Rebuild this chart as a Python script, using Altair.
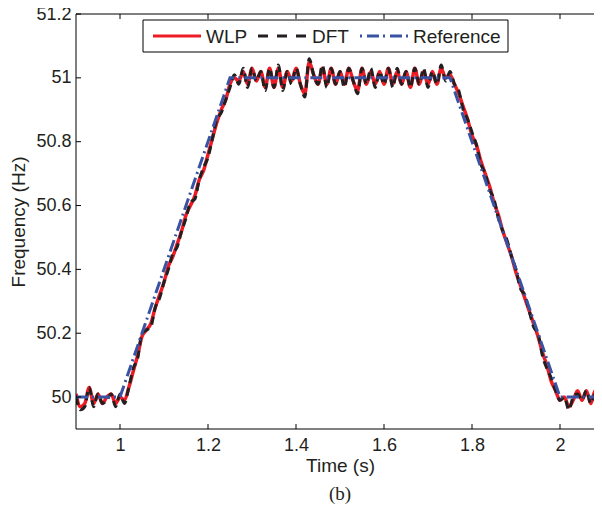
import altair as alt
import pandas as pd

# sample times (s)
time = [round(0.90 + 0.01 * i, 2) for i in range(121)]

wlp = [50.01, 49.97, 49.98, 50.03, 49.98, 50.01, 49.98, 50.00, 50.01, 49.98, 50.00,
       49.99, 50.03, 50.08, 50.13, 50.19, 50.21, 50.23, 50.28, 50.32, 50.36,
       50.41, 50.44, 50.48, 50.52, 50.57, 50.60, 50.63, 50.68, 50.71, 50.76,
       50.81, 50.86, 50.90, 50.93, 50.98, 51.00, 50.99, 51.02, 50.98, 51.03,
       50.99, 51.02, 50.97, 51.03, 50.97, 51.03, 50.97, 51.02, 50.99, 51.03,
       50.98, 50.95, 51.05, 51.01, 50.98, 51.03, 50.98, 51.03, 50.98, 51.02,
       50.98, 51.03, 50.99, 50.96, 51.03, 50.98, 51.02, 50.98, 51.02, 50.98,
       51.03, 50.98, 51.02, 50.98, 51.02, 50.97, 51.03, 50.98, 51.02, 50.98,
       51.02, 50.98, 51.03, 51.00, 51.01, 50.98, 50.95, 50.91, 50.87, 50.82,
       50.79, 50.74, 50.70, 50.66, 50.61, 50.57, 50.52, 50.48, 50.44, 50.39,
       50.35, 50.31, 50.27, 50.23, 50.19, 50.14, 50.10, 50.05, 50.02, 49.99,
       50.00, 49.97, 49.99, 50.02, 49.99, 50.02, 49.98, 50.02, 49.97, 50.03]

dft = [50.00, 49.96, 49.97, 50.03, 49.97, 50.01, 49.98, 49.99, 50.01, 49.97, 50.01,
       49.98, 50.03, 50.09, 50.12, 50.20, 50.21, 50.22, 50.28, 50.31, 50.36,
       50.40, 50.45, 50.47, 50.52, 50.56, 50.61, 50.62, 50.68, 50.72, 50.75,
       50.81, 50.87, 50.89, 50.93, 50.97, 51.01, 50.98, 51.03, 50.97, 51.03,
       50.99, 51.02, 50.96, 51.03, 50.97, 51.04, 50.96, 51.02, 50.98, 51.03,
       50.98, 50.94, 51.06, 51.01, 50.98, 51.04, 50.97, 51.03, 50.98, 51.02,
       50.97, 51.03, 50.99, 50.95, 51.03, 50.98, 51.03, 50.97, 51.02, 50.98,
       51.03, 50.97, 51.03, 50.98, 51.02, 50.97, 51.03, 50.98, 51.03, 50.97,
       51.02, 50.98, 51.04, 50.99, 51.02, 50.98, 50.96, 50.90, 50.87, 50.83,
       50.79, 50.73, 50.70, 50.65, 50.62, 50.56, 50.52, 50.49, 50.44, 50.40,
       50.34, 50.32, 50.27, 50.22, 50.20, 50.13, 50.09, 50.06, 50.02, 49.99,
       50.00, 49.96, 50.00, 50.01, 49.99, 50.02, 49.98, 50.01, 49.97, 50.02]

ref_t = [0.90, 1.00, 1.25, 1.75, 2.00, 2.10]
ref_f = [50.0, 50.0, 51.0, 51.0, 50.0, 50.0]

x_ticks = [1.0, 1.2, 1.4, 1.6, 1.8, 2.0]
y_ticks = [50.0, 50.2, 50.4, 50.6, 50.8, 51.0, 51.2]

legend_labels = ["WLP", "DFT", "Reference"]

RED = "#ed1c24"
BLACK = "#231f20"
BLUE = "#3953a4"
W, H = 518, 415
PX_PER_S = 440.0

df_w = pd.DataFrame({"t": time, "f": wlp})
df_d = pd.DataFrame({"t": time, "f": dft})
df_r = pd.DataFrame({"t": ref_t, "f": ref_f})

# the reference's axes run to 2.1 s, past the right edge of the window
xs = alt.Scale(domain=[0.9, 0.9 + W / PX_PER_S], nice=False, zero=False)
ys = alt.Scale(domain=[49.9, 51.2], nice=False, zero=False)

xax = alt.Axis(values=x_ticks, format=".1~f", title="Time (s)", ticks=False, domain=False,
               grid=False, labelPadding=7, titleX=264, titleY=27, titleBaseline="top",
               titleAlign="center")
yax = alt.Axis(values=y_ticks, format=".1~f", title="Frequency (Hz)", ticks=False, domain=False,
               grid=False, labelPadding=5, titleX=-58, titleY=H / 2, titleAngle=270,
               titleBaseline="middle", titleAlign="center")

line_w = alt.Chart(df_w).mark_line(color=RED, strokeWidth=3.5, interpolate="monotone", clip=True).encode(
    x=alt.X("t:Q", scale=xs, axis=xax),
    y=alt.Y("f:Q", scale=ys, axis=yax),
)
line_d = alt.Chart(df_d).mark_line(color=BLACK, strokeWidth=3, strokeDash=[8, 5],
                                   interpolate="monotone", clip=True).encode(
    x=alt.X("t:Q", scale=xs), y=alt.Y("f:Q", scale=ys))
line_r = alt.Chart(df_r).mark_line(color=BLUE, strokeWidth=3, strokeDash=[12, 4, 2, 4], clip=True).encode(
    x=alt.X("t:Q", scale=xs), y=alt.Y("f:Q", scale=ys))

# frame (left, top, bottom; the right side lies past the window edge)
frame_df = pd.DataFrame({"k": [0]})
frame_left = alt.Chart(frame_df).mark_rule(color="black", strokeWidth=1).encode(
    x=alt.value(0), y=alt.value(0), y2=alt.value(H))
frame_top = alt.Chart(frame_df).mark_rule(color="black", strokeWidth=1).encode(
    x=alt.value(0), x2=alt.value(W + 2), y=alt.value(0))
frame_bottom = alt.Chart(frame_df).mark_rule(color="black", strokeWidth=1).encode(
    x=alt.value(0), x2=alt.value(W + 2), y=alt.value(H))

# inward ticks (MATLAB style box)
df_xt = pd.DataFrame({"t": x_ticks})
df_yt = pd.DataFrame({"f": y_ticks})
tick_bottom = alt.Chart(df_xt).mark_rule(color="black", strokeWidth=1).encode(
    x=alt.X("t:Q", scale=xs), y=alt.value(H - 5), y2=alt.value(H))
tick_top = alt.Chart(df_xt).mark_rule(color="black", strokeWidth=1).encode(
    x=alt.X("t:Q", scale=xs), y=alt.value(0), y2=alt.value(5))
tick_left = alt.Chart(df_yt).mark_rule(color="black", strokeWidth=1).encode(
    y=alt.Y("f:Q", scale=ys), x=alt.value(0), x2=alt.value(5))

# legend
leg_df = pd.DataFrame({"label": legend_labels})
leg_box = alt.Chart(leg_df.head(1)).mark_rect(fill="white", stroke="black", strokeWidth=1).encode(
    x=alt.value(67), x2=alt.value(432), y=alt.value(6), y2=alt.value(38))
ly = 22
leg_red = alt.Chart(leg_df.head(1)).mark_rule(color=RED, strokeWidth=3).encode(
    x=alt.value(77), x2=alt.value(125), y=alt.value(ly))
leg_blk = alt.Chart(leg_df.head(1)).mark_rule(color=BLACK, strokeWidth=3, strokeDash=[10, 9]).encode(
    x=alt.value(182), x2=alt.value(230), y=alt.value(ly))
leg_blu = alt.Chart(leg_df.head(1)).mark_rule(color=BLUE, strokeWidth=3, strokeDash=[2, 5, 12, 4]).encode(
    x=alt.value(284), x2=alt.value(332), y=alt.value(ly))


def leg_text(i, xpos):
    return alt.Chart(leg_df.iloc[[i]]).mark_text(
        align="left", baseline="middle", font="Liberation Sans", fontSize=19, color="#231f20"
    ).encode(x=alt.value(xpos), y=alt.value(ly + 1), text="label:N")


sub = alt.Chart(leg_df.head(1)).mark_text(
    align="center", baseline="middle", font="Liberation Serif", fontSize=19, color="#231f20"
).encode(x=alt.value(264), y=alt.value(480), text=alt.value("(b)"))

chart = alt.layer(
    line_w, line_d, line_r, frame_left, frame_top, frame_bottom,
    tick_bottom, tick_top, tick_left,
    leg_box, leg_red, leg_blk, leg_blu,
    leg_text(0, 130), leg_text(1, 236), leg_text(2, 337), sub
).properties(
    width=W, height=H,
    autosize=alt.AutoSizeParams(type="none"),
    padding={"left": 68, "top": 6, "right": 0, "bottom": 78},
).configure_view(
    strokeWidth=0
).configure_axis(
    labelFont="Liberation Sans", labelFontSize=18, labelColor="#231f20",
    titleFont="Liberation Sans", titleFontSize=19, titleColor="#231f20", titleFontWeight="normal"
)

chart.save("out.html", embed_options={"renderer": "svg", "actions": False})
